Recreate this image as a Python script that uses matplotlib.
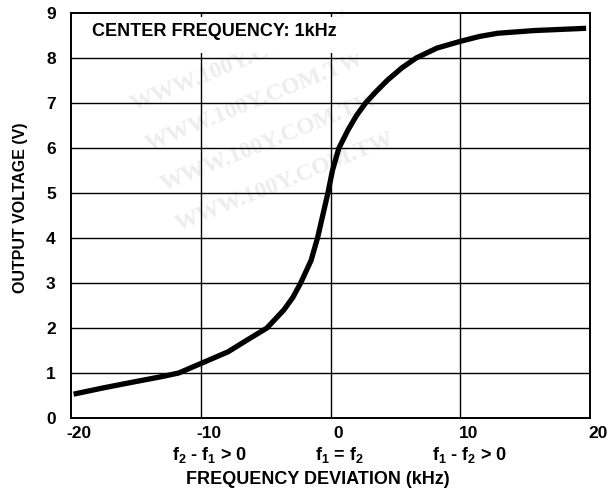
import matplotlib
matplotlib.use("Agg")
import matplotlib.pyplot as plt
import matplotlib.transforms as mtransforms
from matplotlib.patches import Rectangle

plt.rcParams['font.family'] = ['Liberation Sans', 'DejaVu Sans']
plt.rcParams['font.weight'] = 'bold'
plt.rcParams['axes.unicode_minus'] = False
plt.rcParams['mathtext.fontset'] = 'custom'
plt.rcParams['mathtext.rm'] = 'Liberation Sans:bold'
plt.rcParams['mathtext.it'] = 'Liberation Sans:bold'
plt.rcParams['mathtext.bf'] = 'Liberation Sans:bold'

# curve (kHz, V)
freq_dev = [-19.8, -17.5, -15.0, -13.0, -11.7, -10.0, -7.9, -6.5, -4.9, -3.6,
            -2.9, -2.3, -1.5, -1.0, -0.6, -0.2, 0.15, 0.65, 1.35, 2.0,
            2.7, 3.5, 4.4, 5.5, 6.6, 8.2, 10.0, 11.5, 12.9, 15.7, 19.7]
out_volt = [0.53, 0.67, 0.81, 0.92, 1.0, 1.21, 1.47, 1.72, 2.0, 2.4,
            2.68, 3.0, 3.5, 4.0, 4.5, 5.0, 5.5, 6.0, 6.4, 6.72,
            7.0, 7.25, 7.51, 7.78, 8.0, 8.22, 8.37, 8.48, 8.55, 8.61, 8.66]

x_ticks = [-20, -10, 0, 10, 20]
y_ticks = [0, 1, 2, 3, 4, 5, 6, 7, 8, 9]
region_pos = [-10, 0, 10]
region_labels = ['f$_2$ - f$_1$ > 0', 'f$_1$ = f$_2$', 'f$_1$ - f$_2$ > 0']
note = 'CENTER FREQUENCY: 1kHz'
watermark = 'WWW.100Y.COM.TW'

W, H = 615, 496
fig = plt.figure(figsize=(W / 100, H / 100), dpi=100)
ax = fig.add_axes([71 / W, (H - 418) / H, (590 - 71) / W, (418 - 13) / H])
ax.patch.set_alpha(0)

# faint watermark behind everything
wm_spots = [(240, 62), (255, 102), (270, 142), (285, 182)]
for px, py in wm_spots:
    fig.text(px / W, 1 - py / H, watermark, rotation=22, color='#ededed',
             family='Liberation Serif', fontweight='bold', fontsize=17,
             ha='center', va='center', zorder=-5)

for xv in region_pos:
    ax.axvline(xv, color='black', lw=1.0, zorder=1)
for yv in y_ticks[1:-1]:
    ax.axhline(yv, color='black', lw=1.0, zorder=1)

ax.add_patch(Rectangle((0.005, 0.901), 0.56, 0.09, transform=ax.transAxes,
                       facecolor='white', edgecolor='none', zorder=2))
ax.text(0.04, 0.954, note, transform=ax.transAxes, fontsize=13,
        fontweight='bold', va='center', ha='left', zorder=3)

ax.plot(freq_dev, out_volt, color='black', lw=3.8, solid_capstyle='butt',
        solid_joinstyle='round', zorder=4)

ax.set_xlim(-20, 20)
ax.set_ylim(0, 9)
ax.set_xticks(x_ticks)
ax.set_yticks(y_ticks)
ax.tick_params(length=0, labelsize=12.5)
ax.tick_params(axis='x', pad=6)
ax.tick_params(axis='y', pad=11)
shift = mtransforms.ScaledTranslation(8 / 100, 0, fig.dpi_scale_trans)
for lab in ax.get_xticklabels():
    lab.set_transform(lab.get_transform() + shift)
    lab.set_fontweight('bold')
for lab in ax.get_yticklabels():
    lab.set_fontweight('bold')

for sp in ax.spines.values():
    sp.set_linewidth(1.4)
    sp.set_zorder(5)

for xv, txt in zip(region_pos, region_labels):
    ax.annotate(txt, xy=(xv, 0), xycoords=('data', 'axes fraction'),
                xytext=(9 * 0.72, -37 * 0.72), textcoords='offset points',
                ha='center', va='center', fontsize=13, fontweight='bold')

fig.text(318 / W, 1 - 480 / H, 'FREQUENCY DEVIATION (kHz)',
         ha='center', va='center', fontsize=13, fontweight='bold')
fig.text(21 / W, 1 - 208 / H, 'OUTPUT VOLTAGE (V)', rotation=90,
         ha='center', va='center', fontsize=11.5, fontweight='bold')

fig.savefig('out.png', dpi=100)
